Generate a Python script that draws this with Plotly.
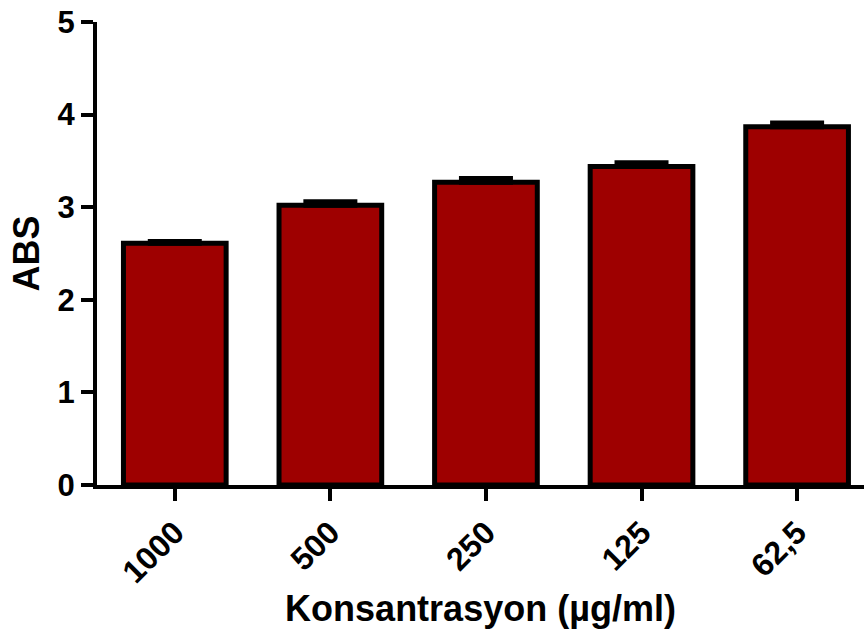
import plotly.graph_objects as go

categories = ["1000", "500", "250", "125", "62,5"]
abs_values = [2.61, 3.02, 3.27, 3.44, 3.87]
abs_errors = [0.02, 0.04, 0.04, 0.04, 0.04]
y_ticks = [0, 1, 2, 3, 4, 5]

FONT = "Liberation Sans, Arial, sans-serif"

fig = go.Figure()
fig.add_trace(go.Bar(
    x=list(range(len(categories))),
    y=abs_values,
    marker=dict(color="#9E0000", line=dict(color="black", width=5)),
    error_y=dict(type="data", array=abs_errors, arrayminus=[0] * len(abs_errors),
                 symmetric=False, color="black", thickness=5, width=27),
    width=0.66,
))

fig.update_layout(
    width=864, height=639,
    margin=dict(l=97, r=0, t=22, b=154),
    paper_bgcolor="white", plot_bgcolor="white",
    showlegend=False,
    font=dict(family=FONT, color="black", size=31, weight="bold"),
)
fig.update_xaxes(
    range=[-0.5, 4.43],
    tickmode="array", tickvals=list(range(len(categories))), ticktext=categories,
    tickangle=-45, automargin=False,
    showline=True, linecolor="black", linewidth=4,
    ticks="outside", ticklen=12, tickwidth=4, tickcolor="black",
    showgrid=False, zeroline=False,
    tickfont=dict(family=FONT, size=32, color="black", weight="bold"),
    title=dict(text="Konsantrasyon (µg/ml)", font=dict(family=FONT, size=36, color="black", weight="bold"), standoff=8),
)
fig.update_yaxes(
    range=[0, 5],
    tickmode="array", tickvals=y_ticks, automargin=False,
    showline=True, linecolor="black", linewidth=4,
    ticks="outside", ticklen=12, tickwidth=4, tickcolor="black",
    showgrid=False, zeroline=False,
    tickfont=dict(family=FONT, size=31, color="black", weight="bold"),
    title=dict(text="ABS", font=dict(family=FONT, size=36, color="black", weight="bold"), standoff=8),
)

fig.write_html("out.html", config={"displayModeBar": False},
               post_script="document.body.style.margin='0';")
